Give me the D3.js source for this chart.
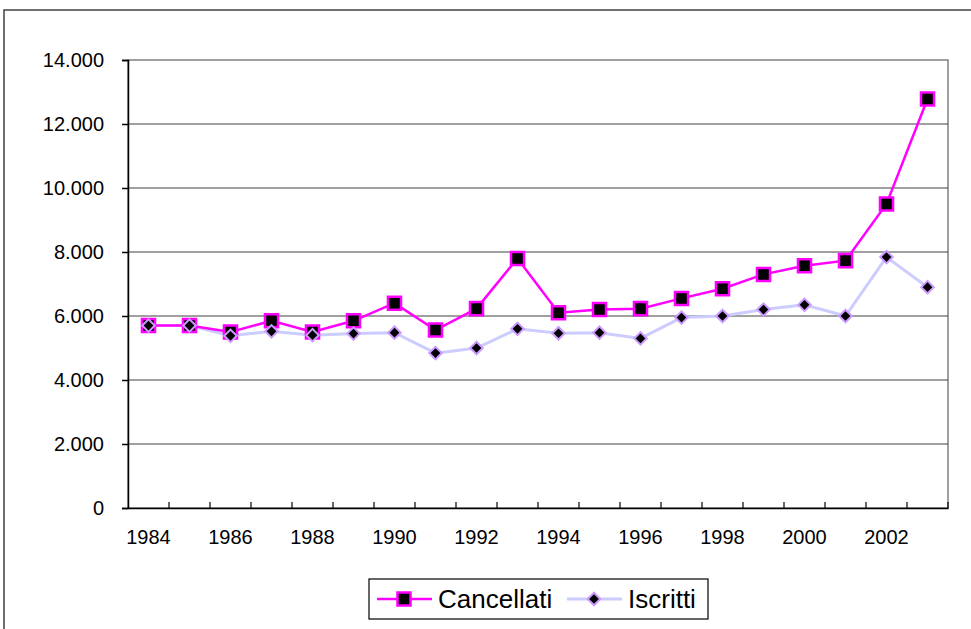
<!DOCTYPE html>
<html>
  <head>
    <meta charset="utf-8">
    <title>Cancellati / Iscritti</title>
    <script src="https://d3js.org/d3.v7.min.js"></script>
    <style>
      body { margin: 0; background: #fff; }
      text { font-family: Arial, "Liberation Sans", sans-serif; fill: #000; }
    </style>
  </head>
  <body>
    <script>
      // data
      var years = [1984, 1985, 1986, 1987, 1988, 1989, 1990, 1991, 1992, 1993,
                   1994, 1995, 1996, 1997, 1998, 1999, 2000, 2001, 2002, 2003];
      var cancellati = [5700, 5700, 5500, 5850, 5500, 5850, 6400, 5560, 6230, 7800,
                        6100, 6200, 6230, 6550, 6850, 7300, 7570, 7730, 9500, 12780];
      var iscritti = [5700, 5700, 5380, 5520, 5400, 5450, 5480, 4840, 5000, 5600,
                      5460, 5480, 5300, 5950, 6000, 6200, 6350, 6000, 7840, 6900];
      var yTicks = [0, 2000, 4000, 6000, 8000, 10000, 12000, 14000];
      var seriesNames = ["Cancellati", "Iscritti"];

      var width = 971, height = 629;
      var plot = {left: 128, right: 948, top: 60, bottom: 508};

      var it = d3.formatLocale({decimal: ",", thousands: ".", grouping: [3], currency: ["€", ""]});
      var fmt = it.format(",d");

      var svg = d3.select("body").append("svg")
                  .attr("width", width)
                  .attr("height", height);

      // outer chart frame (runs off the right and bottom edge)
      svg.append("rect")
         .attr("x", 4).attr("y", 10)
         .attr("width", 1000).attr("height", 700)
         .attr("fill", "#fff")
         .attr("stroke", "#404040")
         .attr("stroke-width", 1.5);

      var x = d3.scaleBand()
                .domain(years)
                .range([plot.left, plot.right])
                .padding(0);

      var y = d3.scaleLinear()
                .domain([0, 14000])
                .range([plot.bottom, plot.top]);

      // plot area border
      svg.append("rect")
         .attr("x", plot.left).attr("y", plot.top)
         .attr("width", plot.right - plot.left)
         .attr("height", plot.bottom - plot.top)
         .attr("fill", "none")
         .attr("stroke", "#808080")
         .attr("stroke-width", 1.5);

      // gridlines
      svg.append("g").selectAll("line")
         .data(yTicks.filter(function(d) { return d > 0 && d < 14000; }))
         .enter().append("line")
         .attr("x1", plot.left).attr("x2", plot.right)
         .attr("y1", function(d) { return y(d); })
         .attr("y2", function(d) { return y(d); })
         .attr("stroke", "#404040")
         .attr("stroke-width", 1);

      // y axis
      var yAxis = svg.append("g")
         .attr("transform", "translate(" + plot.left + ",0)")
         .call(d3.axisLeft(y).tickValues(yTicks).tickFormat(fmt).tickSize(6).tickPadding(18));
      yAxis.selectAll("text").attr("font-size", 20).style("font-family", "Arial, 'Liberation Sans', sans-serif");
      yAxis.selectAll("line, path").attr("stroke", "#000").attr("stroke-width", 1.5);

      // x axis: labels on every other year, ticks on category boundaries
      var xAxis = svg.append("g")
         .attr("transform", "translate(0," + plot.bottom + ")")
         .call(d3.axisBottom(x)
                 .tickSize(0)
                 .tickPadding(22)
                 .tickFormat(function(d) { return d % 2 === 0 ? d : ""; }));
      xAxis.select(".domain").attr("stroke", "#000").attr("stroke-width", 1.5);
      xAxis.selectAll("text").attr("font-size", 20).style("font-family", "Arial, 'Liberation Sans', sans-serif");

      svg.append("g").selectAll("line")
         .data(years.slice(1).concat(["end"]))
         .enter().append("line")
         .attr("x1", function(d, i) { return plot.left + x.bandwidth() * (i + 1); })
         .attr("x2", function(d, i) { return plot.left + x.bandwidth() * (i + 1); })
         .attr("y1", plot.bottom)
         .attr("y2", plot.bottom - 6)
         .attr("stroke", "#000")
         .attr("stroke-width", 1.2);

      var cx = function(d, i) { return x(years[i]) + x.bandwidth() / 2; };

      var line = d3.line()
                   .x(cx)
                   .y(function(d) { return y(d); });

      // Iscritti
      svg.append("path")
         .datum(iscritti)
         .attr("d", line)
         .attr("fill", "none")
         .attr("stroke", "#CCCCFF")
         .attr("stroke-width", 3);

      // Cancellati
      svg.append("path")
         .datum(cancellati)
         .attr("d", line)
         .attr("fill", "none")
         .attr("stroke", "#FF00FF")
         .attr("stroke-width", 2.5);

      var square = d3.symbol().type(d3.symbolSquare).size(170);
      // a square turned 45 degrees, like the Excel diamond marker
      var diamond = d3.symbol().type(d3.symbolSquare).size(78);

      svg.append("g").selectAll("path")
         .data(cancellati)
         .enter().append("path")
         .attr("d", square)
         .attr("transform", function(d, i) { return "translate(" + cx(d, i) + "," + y(d) + ")"; })
         .attr("fill", "#000")
         .attr("stroke", "#FF00FF")
         .attr("stroke-width", 2.5);

      svg.append("g").selectAll("path")
         .data(iscritti)
         .enter().append("path")
         .attr("d", diamond)
         .attr("transform", function(d, i) { return "translate(" + cx(d, i) + "," + y(d) + ") rotate(45)"; })
         .attr("fill", "#000")
         .attr("stroke", "#CC99FF")
         .attr("stroke-width", 2);

      // legend
      var legend = svg.append("g");
      legend.append("rect")
            .attr("x", 369).attr("y", 579)
            .attr("width", 339).attr("height", 40)
            .attr("fill", "#fff")
            .attr("stroke", "#000")
            .attr("stroke-width", 1.2);

      var items = [
        {name: seriesNames[0], x0: 377, color: "#FF00FF", mark: "#FF00FF", sym: square, rot: 0, lw: 2.5, sw: 2.5},
        {name: seriesNames[1], x0: 567, color: "#CCCCFF", mark: "#CC99FF", sym: diamond, rot: 45, lw: 3, sw: 2}
      ];
      items.forEach(function(it) {
        legend.append("line")
              .attr("x1", it.x0).attr("x2", it.x0 + 55)
              .attr("y1", 599).attr("y2", 599)
              .attr("stroke", it.color)
              .attr("stroke-width", it.lw);
        legend.append("path")
              .attr("d", it.sym)
              .attr("transform", "translate(" + (it.x0 + 27) + ",599) rotate(" + it.rot + ")")
              .attr("fill", "#000")
              .attr("stroke", it.mark)
              .attr("stroke-width", it.sw);
        legend.append("text")
              .attr("x", it.x0 + 61)
              .attr("y", 608)
              .attr("font-size", 26)
              .text(it.name);
      });
    </script>
  </body>
</html>
